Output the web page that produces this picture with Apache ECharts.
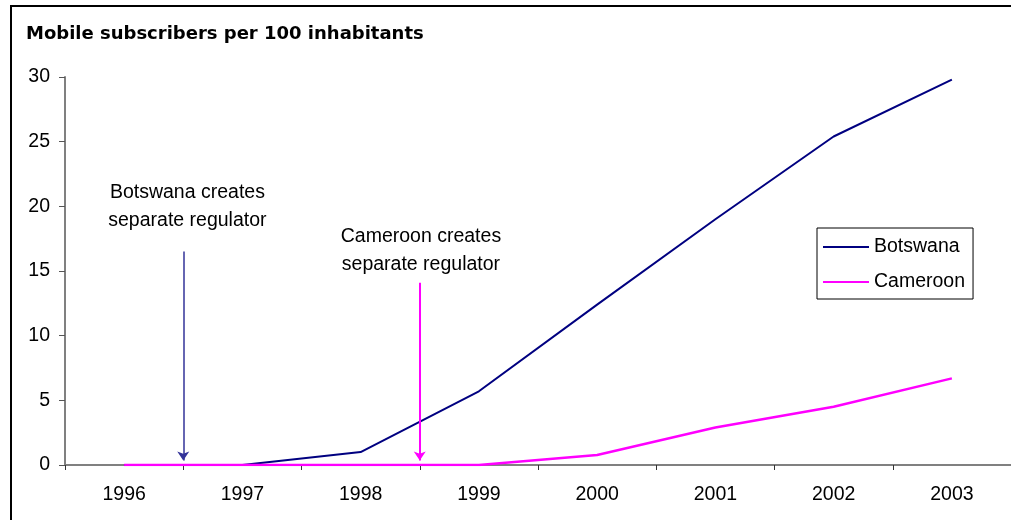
<!DOCTYPE html>
<html>
<head>
<meta charset="utf-8">
<script src="https://cdn.jsdelivr.net/npm/echarts@6/dist/echarts.min.js"></script>
<style>
  html, body { margin: 0; padding: 0; background: #fff; }
  #chart { width: 1011px; height: 520px; }
</style>
</head>
<body>
<div id="chart"></div>
<script>
// Mobile subscribers per 100 inhabitants, Botswana vs Cameroon
const years = ['1996', '1997', '1998', '1999', '2000', '2001', '2002', '2003'];
const botswana = [0, 0, 1.0, 5.7, 12.4, 19.0, 25.4, 29.8];
const cameroon = [0, 0, 0, 0, 0.77, 2.9, 4.5, 6.7];
const yTicks = [0, 5, 10, 15, 20, 25, 30];

// Regulator events: position on the year scale (x.5 = between two years),
// arrow start height, and label text
const botswanaEvent = { x: 0.5, top: 16.5, text: 'Botswana creates\nseparate regulator', labelY: 20.0 };
const cameroonEvent = { x: 2.5, top: 14.1, text: 'Cameroon creates\nseparate regulator', labelY: 16.6 };

const FONT = '"Liberation Sans", Arial, sans-serif';

const chart = echarts.init(document.getElementById('chart'), null, { renderer: 'canvas' });

chart.setOption({
  animation: false,
  backgroundColor: '#ffffff',
  title: {
    text: 'Mobile subscribers per 100 inhabitants',
    left: 21,
    top: 20,
    textStyle: { fontFamily: '"DejaVu Sans", sans-serif', fontWeight: 'bold', fontSize: 18, color: '#000' }
  },
  graphic: [{
    type: 'rect',
    shape: { x: 11, y: 6, width: 1100, height: 600 },
    style: { fill: 'none', stroke: '#000', lineWidth: 2 },
    z: 100
  }],
  legend: {
    orient: 'vertical',
    left: 817,
    top: 228,
    padding: [9, 8, 7, 6],
    icon: 'rect',
    itemWidth: 46,
    itemHeight: 2.2,
    itemGap: 15,
    borderColor: '#000',
    borderWidth: 1,
    textStyle: { fontFamily: FONT, fontSize: 19.5, lineHeight: 20, color: '#000' },
    data: ['Botswana', 'Cameroon']
  },
  grid: { left: 65, top: 77, width: 952, height: 388, containLabel: false },
  xAxis: [{
    type: 'category',
    data: years,
    boundaryGap: true,
    axisLine: { lineStyle: { color: '#808080', width: 2 } },
    axisTick: { show: true, length: 5, lineStyle: { color: '#333', width: 1 } },
    axisLabel: { margin: 20, fontFamily: FONT, fontSize: 19.5, color: '#000' },
    splitLine: { show: false }
  }, {
    // numeric twin of the year axis, used to place the regulator arrows between years
    type: 'value',
    min: -0.5,
    max: 7.5,
    show: false
  }],
  yAxis: {
    type: 'value',
    min: 0,
    max: 30,
    interval: 5,
    axisLine: { show: true, onZero: false, lineStyle: { color: '#808080', width: 2 } },
    axisTick: { show: true, length: 6, lineStyle: { color: '#555', width: 1 } },
    axisLabel: {
      margin: 15,
      fontFamily: FONT,
      fontSize: 19.5,
      color: '#000',
      formatter: v => (yTicks.indexOf(v) >= 0 ? String(v) : '')
    },
    splitLine: { show: false }
  },
  series: [
    {
      name: 'Botswana',
      type: 'line',
      data: botswana,
      symbol: 'none',
      lineStyle: { color: '#000080', width: 2 },
      itemStyle: { color: '#000080' },
      z: 3
    },
    {
      name: 'Cameroon',
      type: 'line',
      data: cameroon,
      symbol: 'none',
      lineStyle: { color: '#ff00ff', width: 2.5 },
      itemStyle: { color: '#ff00ff' },
      z: 4
    },
    {
      type: 'lines',
      coordinateSystem: 'cartesian2d',
      xAxisIndex: 1,
      symbol: ['none', 'arrow'],
      symbolSize: 9,
      z: 5,
      data: [
        { coords: [[botswanaEvent.x, botswanaEvent.top], [botswanaEvent.x, 0.35]],
          lineStyle: { color: '#333399', width: 1.5, opacity: 1 } },
        { coords: [[cameroonEvent.x, cameroonEvent.top], [cameroonEvent.x, 0.35]],
          lineStyle: { color: '#ff00ff', width: 2, opacity: 1 } }
      ]
    },
    {
      type: 'scatter',
      xAxisIndex: 1,
      symbolSize: 0,
      silent: true,
      z: 6,
      itemStyle: { opacity: 1 },
      label: {
        show: true,
        position: 'inside',
        align: 'center',
        verticalAlign: 'middle',
        fontFamily: FONT,
        fontSize: 19.5,
        lineHeight: 28,
        color: '#000',
        formatter: p => p.data.text
      },
      data: [
        { value: [botswanaEvent.x + 0.035, botswanaEvent.labelY], text: botswanaEvent.text },
        { value: [cameroonEvent.x + 0.01, cameroonEvent.labelY], text: cameroonEvent.text }
      ]
    }
  ]
});
</script>
</body>
</html>
